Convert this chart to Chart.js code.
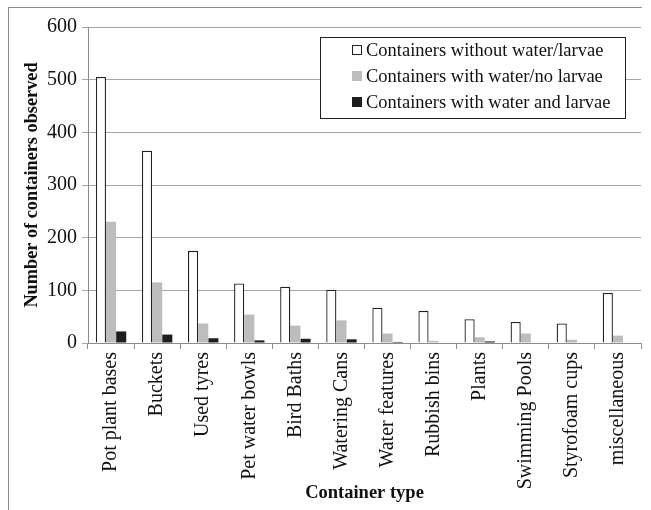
<!DOCTYPE html>
<html>
<head>
<meta charset="utf-8">
<script src="https://cdn.jsdelivr.net/npm/chart.js@4/dist/chart.umd.min.js"></script>
<style>
    html, body { margin: 0; padding: 0; background: #fff; }
    #wrap { position: relative; width: 651px; height: 510px; }
    #frame { position: absolute; left: 8px; top: 7px; width: 633px; height: 510px;
             border-left: 1px solid #8c8c8c; border-top: 1px solid #8c8c8c; }
    canvas { position: absolute; left: 0; top: 0; }
</style>
</head>
<body>
<div id="wrap">
    <div id="frame"></div>
    <canvas id="barChart" width="651" height="510"></canvas>
</div>
<script>
const categories = ['Pot plant bases', 'Buckets', 'Used tyres', 'Pet water bowls', 'Bird Baths',
    'Watering Cans', 'Water features', 'Rubbish bins', 'Plants', 'Swimming Pools',
    'Styrofoam cups', 'miscellaneous'];
const withoutWater = [505, 365, 175, 113, 107, 101, 67, 61, 45, 40, 37, 95];
const waterNoLarvae = [230, 115, 37, 54, 33, 43, 18, 4, 11, 18, 6, 14];
const waterLarvae = [22, 16, 9, 5, 8, 7, 2, 0, 3, 0, 0, 0];
const seriesNames = ['Containers without water/larvae', 'Containers with water/no larvae',
    'Containers with water and larvae'];
const yTicks = [0, 100, 200, 300, 400, 500, 600];

const serif = '"Liberation Serif", "DejaVu Serif", serif';

// legend box drawn inside the plot, like the original
const boxLegend = {
    id: 'boxLegend',
    afterDraw(chart) {
        const ctx = chart.ctx;
        const area = chart.chartArea;
        const x = area.right - 321, y = area.top + 10, w = 305, h = 81;
        ctx.save();
        ctx.fillStyle = '#fff';
        ctx.fillRect(x, y, w, h);
        ctx.strokeStyle = '#222';
        ctx.lineWidth = 1;
        ctx.strokeRect(x + 0.5, y + 0.5, w, h);
        ctx.font = '18.5px ' + serif;
        ctx.textBaseline = 'middle';
        chart.data.datasets.forEach((ds, i) => {
            const cy = y + 13 + i * 26;
            ctx.fillStyle = ds.backgroundColor;
            ctx.fillRect(x + 32, cy - 5, 10, 10);
            if (ds.borderWidth) {
                ctx.strokeStyle = ds.borderColor;
                ctx.strokeRect(x + 32.5, cy - 4.5, 9, 9);
            }
            ctx.fillStyle = '#111';
            ctx.fillText(ds.label, x + 46, cy + 1);
        });
        ctx.restore();
    }
};

new Chart(document.getElementById('barChart'), {
    type: 'bar',
    data: {
        labels: categories,
        datasets: [
            { label: seriesNames[0], data: withoutWater, backgroundColor: '#ffffff',
              borderColor: '#222', borderWidth: 1.3 },
            { label: seriesNames[1], data: waterNoLarvae, backgroundColor: '#bdbdbd', borderWidth: 0 },
            { label: seriesNames[2], data: waterLarvae, backgroundColor: '#1e1e1e', borderWidth: 0 }
        ]
    },
    options: {
        responsive: false,
        animation: false,
        layout: { padding: { left: 16, right: 10, top: 27, bottom: 0 } },
        datasets: { bar: { categoryPercentage: 0.66, barPercentage: 1 } },
        plugins: { legend: { display: false }, tooltip: { enabled: false } },
        scales: {
            x: {
                afterFit: (s) => { s.height = 167; },
                border: { color: '#8c8c8c' },
                grid: { offset: true, drawOnChartArea: false, drawTicks: true, tickLength: 6, color: '#8c8c8c' },
                ticks: { minRotation: 90, maxRotation: 90, padding: 3, color: '#111',
                         font: { family: serif, size: 20 } },
                title: { display: true, text: 'Container type', color: '#111',
                         font: { family: serif, size: 18.5, weight: 'bold' }, padding: { top: 0, bottom: 6 } }
            },
            y: {
                min: 0, max: 600,
                afterFit: (s) => { s.width = 72; },
                afterBuildTicks: (s) => { s.ticks = yTicks.map(v => ({ value: v })); },
                border: { color: '#8c8c8c' },
                grid: { color: '#a6a6a6', tickLength: 6 },
                ticks: { padding: 5, color: '#111', font: { family: serif, size: 20 } },
                title: { display: true, text: 'Number of containers observed', color: '#111',
                         font: { family: serif, size: 18.3, weight: 'bold' }, padding: { top: 5, bottom: 0 } }
            }
        }
    },
    plugins: [boxLegend]
});
</script>
</body>
</html>
